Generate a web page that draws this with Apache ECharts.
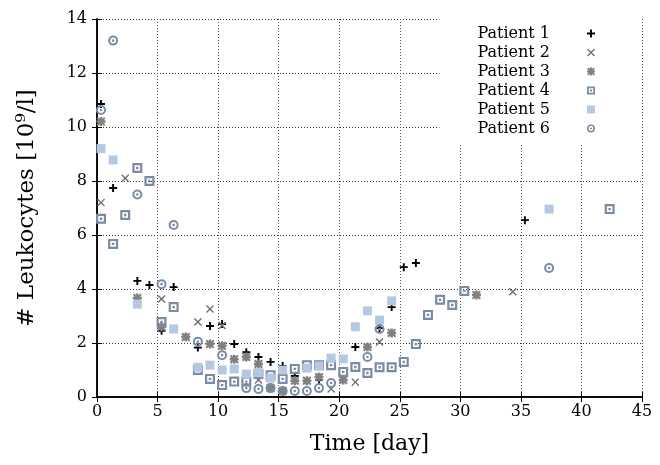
<!DOCTYPE html>
<html><head><meta charset="utf-8">
<script src="https://cdn.jsdelivr.net/npm/echarts@6/dist/echarts.min.js"></script>
<style>html,body{margin:0;padding:0;background:#fff}#c{width:660px;height:465px}</style>
</head><body><div id="c"></div>
<script>
var xTicks = [0,5,10,15,20,25,30,35,40,45];
var yTicks = [0,2,4,6,8,10,12,14];
var names = ["Patient 1","Patient 2","Patient 3","Patient 4","Patient 5","Patient 6"];

var p1Days = [0.33,1.33,3.33,4.33,5.33,6.33,8.33,9.33,10.33,11.33,12.33,13.33,14.33,15.33,16.33,18.33,21.33,23.33,24.33,25.33,26.33,35.33];
var p1Vals = [10.85,7.74,4.3,4.15,2.45,4.07,1.83,2.63,2.7,1.96,1.66,1.48,1.3,1.15,0.78,0.63,1.85,2.55,3.33,4.81,4.96,6.55];

var p2Days = [0.33,2.33,5.33,8.33,9.33,10.33,13.33,19.33,21.33,23.33,34.33];
var p2Vals = [7.2,8.1,3.63,2.78,3.26,2.65,0.63,0.3,0.55,2.04,3.9];

var p3Days = [0.33,3.33,5.33,7.33,9.33,10.33,11.33,12.33,13.33,14.33,15.33,16.33,17.33,18.33,20.33,22.33,24.33,31.33];
var p3Vals = [10.2,3.67,2.6,2.22,1.96,1.9,1.4,1.48,1.22,0.33,0.22,0.6,0.6,0.74,0.63,1.85,2.37,3.78];

var p4Days = [0.33,1.33,2.33,3.33,4.33,5.33,6.33,8.33,9.33,10.33,11.33,12.33,13.33,14.33,15.33,16.33,17.33,18.33,19.33,20.33,21.33,22.33,23.33,24.33,25.33,26.33,27.33,28.33,29.33,30.33,42.33];
var p4Vals = [6.6,5.67,6.74,8.48,8.0,2.78,3.33,1.0,0.67,0.44,0.57,0.57,0.85,0.81,0.67,1.04,1.18,1.18,1.18,0.93,1.11,0.89,1.1,1.1,1.3,1.96,3.04,3.6,3.41,3.93,6.96];

var p5Days = [0.33,1.33,3.33,6.33,8.33,9.33,10.33,11.33,12.33,13.33,14.33,15.33,17.33,18.33,19.33,20.33,21.33,22.33,23.33,24.33,37.33];
var p5Vals = [9.2,8.78,3.44,2.52,1.1,1.18,1.0,1.04,0.85,0.9,0.7,1.0,1.07,1.15,1.44,1.41,2.6,3.19,2.85,3.56,6.96];

var p6Days = [0.33,1.33,3.33,5.33,6.33,8.33,10.33,12.33,13.33,14.33,15.33,16.33,17.33,18.33,19.33,22.33,23.33,37.33];
var p6Vals = [10.63,13.2,7.5,4.18,6.37,2.05,1.55,0.33,0.3,0.33,0.22,0.22,0.22,0.33,0.52,1.48,2.52,4.78];

function pairs(d, v){ return d.map(function(x,i){ return [x, v[i]]; }); }

var SYM_PLUS = 'path://M3.8,0H6.2V3.8H10V6.2H6.2V10H3.8V6.2H0V3.8H3.8Z';
var SYM_X = 'path://M0,1.2L1.2,0L5,3.8L8.8,0L10,1.2L6.2,5L10,8.8L8.8,10L5,6.2L1.2,10L0,8.8L3.8,5Z';
var SYM_AST = 'path://M3.6,0H6.4V10H3.6Z M0,3.6H10V6.4H0Z M0,1.6L1.6,0L10,8.4L8.4,10Z M8.4,0L10,1.6L1.6,10L0,8.4Z';
var SYM_SQ = 'path://M0,0H10V10H0Z M2.2,2.2V7.8H7.8V2.2Z M3.8,3.8H6.2V6.2H3.8Z';
var SYM_FSQ = 'rect';
var SYM_CIR = 'path://M5,0A5,5 0 1,1 5,10A5,5 0 1,1 5,0Z M5,2A3,3 0 1,0 5,8A3,3 0 1,0 5,2Z M5,3.7A1.3,1.3 0 1,1 5,6.3A1.3,1.3 0 1,1 5,3.7Z';

var serif = '"DejaVu Serif","Liberation Serif",serif';

var chart = echarts.init(document.getElementById('c'), null, {renderer:'canvas'});
function mk(name, data, sym, size, color){
  return {name:name, type:'scatter', data:data, symbol:sym, symbolSize:size,
    itemStyle:{color:color, opacity:1}, xAxisIndex:0, yAxisIndex:0, z:3};
}
var option = {
  animation:false,
  backgroundColor:'#fff',
  grid:{left:97, right:18, top:19, bottom:68, containLabel:false},
  legend:{
    top:18, right:18, orient:'vertical', align:'right',
    backgroundColor:'#fff', padding:[7,47,7,38],
    itemWidth:8, itemHeight:8, itemGap:2,
    textStyle:{fontFamily:serif, fontSize:16, color:'#000', lineHeight:17, padding:[0,32,0,0]},
    data:names
  },
  xAxis:[{
    type:'value', min:0, max:45, interval:5,
    axisLine:{lineStyle:{color:'#000', width:1.5}},
    axisTick:{inside:true, length:5, lineStyle:{color:'#000'}},
    axisLabel:{fontFamily:serif, fontSize:16, color:'#000', margin:7},
    splitLine:{show:true, lineStyle:{type:[1,2], color:'#555', width:1}},
    name:'Time [day]', nameLocation:'middle', nameGap:36,
    nameTextStyle:{fontFamily:serif, fontSize:22, color:'#000'}
  },{
    type:'value', min:0, max:45, interval:5, position:'top',
    axisLine:{lineStyle:{color:'#000', width:1.5}},
    axisTick:{inside:true, length:5, lineStyle:{color:'#000'}},
    axisLabel:{show:false}, splitLine:{show:false}
  }],
  yAxis:[{
    type:'value', min:0, max:14, interval:2,
    axisLine:{show:true, lineStyle:{color:'#000', width:1.5}},
    axisTick:{show:true, inside:true, length:5, lineStyle:{color:'#000'}},
    axisLabel:{fontFamily:serif, fontSize:16, color:'#000', margin:10},
    splitLine:{show:true, lineStyle:{type:[1,2], color:'#333', width:1}},
    name:'# Leukocytes [10⁹/l]', nameLocation:'middle', nameGap:58, nameRotate:90,
    nameTextStyle:{fontFamily:serif, fontSize:23, color:'#000'}
  },{
    type:'value', min:0, max:14, interval:2, position:'right',
    axisLine:{show:true, lineStyle:{color:'#000', width:1.5}},
    axisTick:{show:true, inside:true, length:5, lineStyle:{color:'#000'}},
    axisLabel:{show:false}, splitLine:{show:false}
  }],
  series:[
    mk(names[0], pairs(p1Days,p1Vals), SYM_PLUS, 8, '#000'),
    mk(names[1], pairs(p2Days,p2Vals), SYM_X, 8, '#6e6e6e'),
    mk(names[2], pairs(p3Days,p3Vals), SYM_AST, 9, '#808080'),
    mk(names[3], pairs(p4Days,p4Vals), SYM_SQ, 10, '#7b8ba3'),
    mk(names[4], pairs(p5Days,p5Vals), SYM_FSQ, 9, '#b4c8e2'),
    mk(names[5], pairs(p6Days,p6Vals), SYM_CIR, 10, '#7a8ca6')
  ]
};
chart.setOption(option);
</script></body></html>
